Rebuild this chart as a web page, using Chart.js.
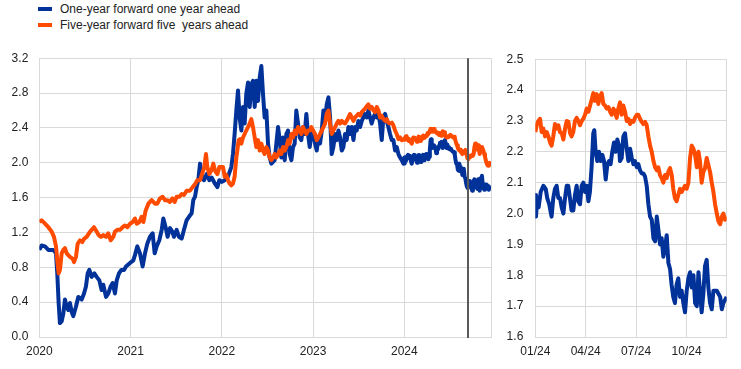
<!DOCTYPE html>
<html><head><meta charset="utf-8">
<script src="https://cdn.jsdelivr.net/npm/chart.js@4.4.1/dist/chart.umd.min.js"></script>
<style>
html,body{margin:0;padding:0;background:#fff;}
body{width:741px;height:369px;position:relative;overflow:hidden;font-family:Arial,"Liberation Sans",sans-serif;}
.lg{position:absolute;left:38px;width:14px;height:4px;}
.lt{position:absolute;left:60px;font-size:12px;line-height:14px;color:#222;white-space:pre;}
#c1{position:absolute;left:0;top:40px;}
#c2{position:absolute;left:495px;top:40px;}
</style></head><body>
<div class="lg" style="top:7px;background:#003299"></div>
<div class="lt" id="l1" style="top:1.5px"></div>
<div class="lg" style="top:23px;background:#ff4b00"></div>
<div class="lt" id="l2" style="top:18px"></div>
<canvas id="c1" width="505" height="329"></canvas>
<canvas id="c2" width="246" height="329"></canvas>
<script>
// ---- series names ----
const seriesNames = ['One-year forward one year ahead', 'Five-year forward five  years ahead'];

// ---- history 2020-2023 (decimal years) ----
const histDatesOne = [2020.000,2020.026,2020.062,2020.099,2020.153,2020.183,2020.197,2020.212,2020.226,2020.245,2020.263,2020.281,2020.299,2020.318,2020.336,2020.354,2020.372,2020.402,2020.427,2020.464,2020.490,2020.511,2020.530,2020.548,2020.574,2020.603,2020.628,2020.658,2020.683,2020.701,2020.731,2020.756,2020.782,2020.804,2020.829,2020.848,2020.873,2020.899,2020.928,2020.950,2020.994,2021.030,2021.048,2021.074,2021.103,2021.132,2021.158,2021.183,2021.213,2021.242,2021.264,2021.286,2021.315,2021.341,2021.359,2021.384,2021.406,2021.432,2021.457,2021.476,2021.505,2021.530,2021.560,2021.585,2021.614,2021.640,2021.669,2021.687,2021.706,2021.724,2021.742,2021.761,2021.783,2021.805,2021.834,2021.863,2021.888,2021.925,2021.951,2021.972,
2022.000,2022.031,2022.067,2022.104,2022.122,2022.140,2022.159,2022.177,2022.195,2022.214,2022.232,2022.250,2022.268,2022.287,2022.305,2022.323,2022.341,2022.360,2022.378,2022.396,2022.415,2022.433,2022.451,2022.469,2022.488,2022.506,2022.524,2022.543,2022.579,2022.597,2022.616,2022.634,2022.652,2022.670,2022.689,2022.707,2022.725,2022.743,2022.762,2022.780,2022.798,2022.816,2022.835,2022.853,2022.871,2022.890,2022.908,2022.926,2022.944,2022.963,2022.981,2022.999,
2023.021,2023.040,2023.058,2023.076,2023.095,2023.113,2023.131,2023.149,2023.168,2023.186,2023.204,2023.222,2023.241,2023.259,2023.277,2023.295,2023.314,2023.332,2023.350,2023.368,2023.387,2023.405,2023.423,2023.442,2023.460,2023.478,2023.496,2023.515,2023.533,2023.551,2023.569,2023.588,2023.606,2023.624,2023.642,2023.661,2023.679,2023.697,2023.716,2023.734,2023.752,2023.770,2023.789,2023.807,2023.825,2023.843,2023.862,2023.880,2023.898,2023.916,2023.935,2023.953,2023.971,2023.990];
const histOneYear = [1.00,1.05,1.04,1.00,1.00,0.96,0.73,0.39,0.16,0.18,0.27,0.43,0.35,0.31,0.39,0.29,0.24,0.35,0.46,0.43,0.50,0.58,0.73,0.77,0.69,0.73,0.69,0.65,0.54,0.60,0.46,0.50,0.58,0.62,0.50,0.65,0.73,0.77,0.77,0.81,0.85,0.88,0.94,1.04,0.96,0.81,0.96,1.07,1.15,1.19,0.96,1.04,1.11,1.23,1.36,1.26,1.15,1.25,1.21,1.15,1.23,1.15,1.13,1.23,1.34,1.38,1.42,1.57,1.61,1.72,1.80,1.99,1.83,1.80,1.87,1.80,1.83,1.76,1.72,1.80,
1.78,1.80,1.84,1.95,2.10,2.33,2.60,2.83,2.52,2.37,2.64,2.45,2.79,2.92,2.64,2.90,2.94,2.64,2.94,2.71,2.98,3.11,2.79,2.52,2.60,2.22,2.06,1.99,2.03,2.22,2.41,2.26,2.06,2.29,2.03,2.33,2.37,2.10,2.03,2.18,2.22,2.60,2.45,2.29,2.26,2.41,2.33,2.56,2.33,2.18,2.33,2.37,
2.22,2.14,2.29,2.22,2.37,2.60,2.48,2.67,2.75,2.52,2.10,2.18,2.33,2.26,2.37,2.29,2.14,2.18,2.33,2.26,2.41,2.33,2.41,2.26,2.41,2.37,2.48,2.41,2.48,2.52,2.56,2.52,2.60,2.52,2.45,2.52,2.56,2.52,2.56,2.45,2.26,2.52,2.56,2.48,2.41,2.33,2.26,2.26,2.14,2.18,2.10,2.06,2.03,1.99];

const histDatesFive = [2020.000,2020.026,2020.062,2020.099,2020.135,2020.161,2020.183,2020.197,2020.212,2020.226,2020.245,2020.263,2020.281,2020.300,2020.318,2020.336,2020.365,2020.380,2020.402,2020.420,2020.446,2020.471,2020.493,2020.519,2020.544,2020.574,2020.599,2020.628,2020.650,2020.676,2020.701,2020.731,2020.756,2020.782,2020.811,2020.829,2020.855,2020.884,2020.913,2020.939,2020.964,2020.994,2021.023,2021.048,2021.067,2021.096,2021.121,2021.140,2021.165,2021.195,2021.231,2021.268,2021.293,2021.322,2021.352,2021.377,2021.403,2021.432,2021.458,2021.483,2021.505,2021.534,2021.560,2021.585,2021.615,2021.651,2021.680,2021.710,2021.731,2021.761,2021.783,2021.808,2021.826,2021.841,2021.863,2021.885,2021.907,2021.925,2021.951,2021.973,
2022.013,2022.031,2022.049,2022.067,2022.086,2022.104,2022.122,2022.140,2022.159,2022.170,2022.184,2022.199,2022.214,2022.232,2022.250,2022.268,2022.287,2022.305,2022.323,2022.341,2022.360,2022.378,2022.396,2022.415,2022.433,2022.451,2022.469,2022.488,2022.506,2022.524,2022.543,2022.561,2022.579,2022.597,2022.616,2022.634,2022.652,2022.670,2022.689,2022.707,2022.725,2022.743,2022.762,2022.780,2022.798,2022.816,2022.835,2022.853,2022.871,2022.890,2022.908,2022.926,2022.944,2022.963,2022.981,2022.999,
2023.021,2023.040,2023.058,2023.076,2023.095,2023.113,2023.131,2023.149,2023.168,2023.186,2023.204,2023.222,2023.241,2023.259,2023.277,2023.295,2023.314,2023.332,2023.350,2023.368,2023.387,2023.405,2023.423,2023.442,2023.460,2023.478,2023.496,2023.515,2023.533,2023.551,2023.569,2023.588,2023.606,2023.624,2023.642,2023.661,2023.679,2023.697,2023.716,2023.734,2023.752,2023.770,2023.789,2023.807,2023.825,2023.843,2023.862,2023.880,2023.898,2023.916,2023.935,2023.953,2023.971,2023.990];
const histFiveYear = [1.32,1.34,1.30,1.26,1.21,1.15,1.04,0.88,0.73,0.77,0.96,1.00,1.02,0.96,0.94,0.92,0.90,0.86,0.92,1.07,1.11,1.09,1.13,1.15,1.19,1.23,1.26,1.21,1.17,1.15,1.17,1.15,1.19,1.11,1.15,1.21,1.23,1.23,1.26,1.28,1.26,1.30,1.32,1.36,1.30,1.32,1.38,1.32,1.45,1.53,1.57,1.53,1.53,1.59,1.61,1.57,1.57,1.55,1.59,1.55,1.61,1.61,1.64,1.63,1.68,1.68,1.72,1.76,1.80,1.80,1.87,1.95,2.10,1.95,1.87,1.91,1.99,1.91,1.87,1.95,
1.95,1.84,1.86,1.80,1.76,1.74,1.76,1.84,2.06,2.14,2.26,2.27,2.22,2.29,2.33,2.37,2.41,2.45,2.50,2.41,2.29,2.18,2.26,2.14,2.22,2.14,2.10,2.18,2.14,2.06,2.03,2.06,2.10,2.06,2.10,2.14,2.10,2.18,2.14,2.18,2.26,2.22,2.33,2.29,2.37,2.33,2.41,2.37,2.33,2.41,2.37,2.33,2.37,2.37,2.41,2.37,
2.33,2.26,2.29,2.33,2.37,2.41,2.45,2.56,2.60,2.45,2.33,2.37,2.41,2.45,2.48,2.45,2.48,2.46,2.45,2.48,2.52,2.56,2.52,2.48,2.52,2.54,2.56,2.54,2.58,2.60,2.62,2.65,2.67,2.62,2.64,2.60,2.58,2.64,2.60,2.52,2.54,2.50,2.48,2.50,2.46,2.45,2.46,2.43,2.37,2.33,2.27,2.29,2.26,2.27];

// ---- 2024 detail (months since January 2024) ----
const recentMonthsOne = [0.00,0.04,0.12,0.20,0.32,0.48,0.62,0.71,0.83,0.97,1.07,1.17,1.27,1.37,1.47,1.57,1.67,1.77,1.87,1.96,2.06,2.16,2.26,2.36,2.46,2.56,2.66,2.76,2.86,2.96,3.06,3.16,3.25,3.35,3.45,3.51,3.59,3.69,3.79,3.89,3.99,4.09,4.19,4.29,4.39,4.48,4.58,4.68,4.78,4.88,4.98,5.04,5.14,5.24,5.34,5.44,5.54,5.64,5.74,5.84,5.93,6.04,6.13,6.23,6.33,6.43,6.53,6.63,6.73,6.83,6.93,7.03,7.13,7.23,7.32,7.42,7.52,7.62,7.72,7.82,7.92,8.02,8.11,8.21,8.31,8.41,8.51,8.61,8.71,8.81,8.91,9.01,9.11,9.21,9.31,9.41,9.51,9.61,9.71,9.80,9.90,10.00,10.10,10.20,10.30,10.40,10.50,10.60,10.70,10.80,10.90,11.00,11.10,11.19,11.29,11.39];
const recentOneYear = [2.06,1.99,2.05,2.02,2.07,2.09,2.08,2.05,2.03,1.99,2.05,2.08,2.09,2.05,2.05,2.02,2.00,2.05,2.09,2.09,2.05,2.01,2.01,2.06,2.09,2.04,2.03,2.09,2.10,2.07,2.09,2.04,2.07,2.15,2.26,2.27,2.20,2.17,2.20,2.17,2.19,2.17,2.11,2.16,2.17,2.16,2.20,2.23,2.20,2.24,2.22,2.17,2.18,2.25,2.26,2.21,2.17,2.21,2.18,2.16,2.17,2.15,2.16,2.14,2.13,2.13,2.12,2.09,2.03,1.99,1.98,1.92,1.91,1.99,1.95,1.90,1.92,1.86,1.89,1.93,1.84,1.82,1.77,1.73,1.71,1.77,1.79,1.73,1.75,1.71,1.68,1.75,1.79,1.81,1.76,1.80,1.71,1.70,1.81,1.75,1.68,1.74,1.83,1.85,1.76,1.71,1.69,1.75,1.75,1.75,1.74,1.73,1.69,1.71,1.72,1.73];

const recentMonthsFive = [0.00,0.08,0.18,0.28,0.38,0.48,0.58,0.68,0.78,0.88,0.97,1.07,1.17,1.27,1.37,1.47,1.57,1.67,1.77,1.87,1.97,2.07,2.16,2.26,2.36,2.46,2.56,2.66,2.76,2.86,2.96,3.06,3.16,3.26,3.36,3.45,3.55,3.65,3.75,3.85,3.95,4.05,4.15,4.25,4.35,4.45,4.55,4.65,4.74,4.84,4.94,5.04,5.14,5.24,5.34,5.44,5.54,5.64,5.74,5.84,5.93,6.04,6.13,6.23,6.33,6.43,6.53,6.63,6.73,6.83,6.93,7.03,7.13,7.23,7.32,7.42,7.52,7.62,7.72,7.82,7.92,8.02,8.12,8.21,8.31,8.41,8.51,8.61,8.71,8.81,8.91,9.01,9.11,9.21,9.31,9.41,9.51,9.61,9.71,9.80,9.90,10.00,10.10,10.20,10.30,10.40,10.50,10.60,10.70,10.80,10.90,11.00,11.10,11.19,11.29,11.39];
const recentFiveYear = [2.264,2.286,2.30,2.307,2.264,2.275,2.25,2.264,2.25,2.23,2.22,2.25,2.29,2.275,2.286,2.264,2.26,2.24,2.275,2.30,2.297,2.26,2.25,2.264,2.30,2.31,2.30,2.286,2.30,2.307,2.32,2.34,2.33,2.35,2.37,2.39,2.365,2.387,2.355,2.38,2.39,2.355,2.35,2.34,2.345,2.33,2.32,2.34,2.33,2.31,2.34,2.36,2.32,2.35,2.33,2.30,2.307,2.29,2.30,2.297,2.31,2.32,2.32,2.307,2.297,2.29,2.297,2.286,2.25,2.22,2.20,2.17,2.15,2.14,2.15,2.125,2.115,2.10,2.125,2.115,2.136,2.147,2.125,2.08,2.05,2.04,2.06,2.08,2.07,2.08,2.09,2.08,2.10,2.18,2.22,2.21,2.19,2.15,2.20,2.17,2.10,2.135,2.147,2.18,2.157,2.135,2.10,2.07,2.03,2.00,1.975,1.965,1.99,2.00,1.98,1.99];

// ---- axes ----
const leftTickYears = [2020, 2021, 2022, 2023, 2024];
const leftTickLabels = ['2020', '2021', '2022', '2023', '2024'];
const rightTickMonths = [0, 3, 6, 9];
const rightTickLabels = ['01/24', '04/24', '07/24', '10/24'];
const policyMarker = 2024.70; // vertical line in left panel (mid-September 2024)

const BLUE = '#003299', ORANGE = '#ff4b00', GRID = '#d9d9d9', TXT = '#222';
const FONT = {family: 'Arial, "Liberation Sans", sans-serif', size: 12};

document.getElementById('l1').textContent = seriesNames[0];
document.getElementById('l2').textContent = seriesNames[1];

function pts(xs, ys, f) { return xs.map((x, i) => ({x: f ? f(x) : x, y: ys[i]})); }

const leftOne = pts(histDatesOne, histOneYear).concat(pts(recentMonthsOne, recentOneYear, m => 2024 + m / 12));
const leftFive = pts(histDatesFive, histFiveYear).concat(pts(recentMonthsFive, recentFiveYear, m => 2024 + m / 12));
const rightOne = pts(recentMonthsOne, recentOneYear);
const rightFive = pts(recentMonthsFive, recentFiveYear);
const leftMax = 2024 + recentMonthsOne[recentMonthsOne.length - 1] / 12;
const rightMax = recentMonthsOne[recentMonthsOne.length - 1];

const markerPlugin = {
  id: 'marker',
  afterDatasetsDraw(chart, args, opts) {
    if (opts.value == null) return;
    const x = Math.round(chart.scales.x.getPixelForValue(opts.value));
    const a = chart.chartArea, c = chart.ctx;
    c.save(); c.strokeStyle = '#595959'; c.lineWidth = 2;
    c.beginPath(); c.moveTo(x, a.top); c.lineTo(x, a.bottom + 1); c.stroke(); c.restore();
  }
};

function make(id, cfg) {
  return new Chart(document.getElementById(id), {
    type: 'line',
    data: {datasets: [
      {label: seriesNames[1], data: cfg.five, borderColor: ORANGE, order: 0},
      {label: seriesNames[0], data: cfg.one, borderColor: BLUE, order: 1}
    ]},
    plugins: [markerPlugin],
    options: {
      responsive: false, animation: false,
      layout: {padding: cfg.padding},
      elements: {line: {borderWidth: 4, tension: 0, borderJoinStyle: 'round'}, point: {radius: 0, hoverRadius: 0}},
      plugins: {legend: {display: false}, tooltip: {enabled: false}, marker: {value: cfg.marker}},
      scales: {
        x: {
          type: 'linear', min: cfg.xmin, max: cfg.xmax,
          afterBuildTicks: s => { s.ticks = cfg.xticks.concat([cfg.xmax]).map(v => ({value: v})); },
          afterFit: s => { s.height = 32; },
          ticks: {autoSkip: false, maxRotation: 0, padding: 7, color: TXT, font: FONT,
            callback: (v, i) => (i < cfg.xlabels.length ? cfg.xlabels[i] : '')},
          grid: {color: GRID, drawTicks: false},
          border: {color: GRID}
        },
        y: {
          min: cfg.ymin, max: cfg.ymax,
          afterFit: s => { s.width = cfg.yw; },
          ticks: {stepSize: cfg.ystep, padding: cfg.ypad, color: TXT, font: FONT, callback: v => Number(v).toFixed(1)},
          grid: {color: GRID, drawTicks: false},
          border: {color: GRID}
        }
      }
    }
  });
}

make('c1', {one: leftOne, five: leftFive, xmin: 2020, xmax: leftMax, xticks: leftTickYears, xlabels: leftTickLabels,
  ymin: 0, ymax: 3.2, ystep: 0.4, yw: 39.3, ypad: 11, marker: policyMarker,
  padding: {top: 17.3, right: 14, bottom: 0, left: 0}});
make('c2', {one: rightOne, five: rightFive, xmin: 0, xmax: rightMax, xticks: rightTickMonths, xlabels: rightTickLabels,
  ymin: 1.6, ymax: 2.5, ystep: 0.1, yw: 40.3, ypad: 12, marker: null,
  padding: {top: 16.7, right: 14.3, bottom: 0, left: 0}});
</script>
</body></html>
